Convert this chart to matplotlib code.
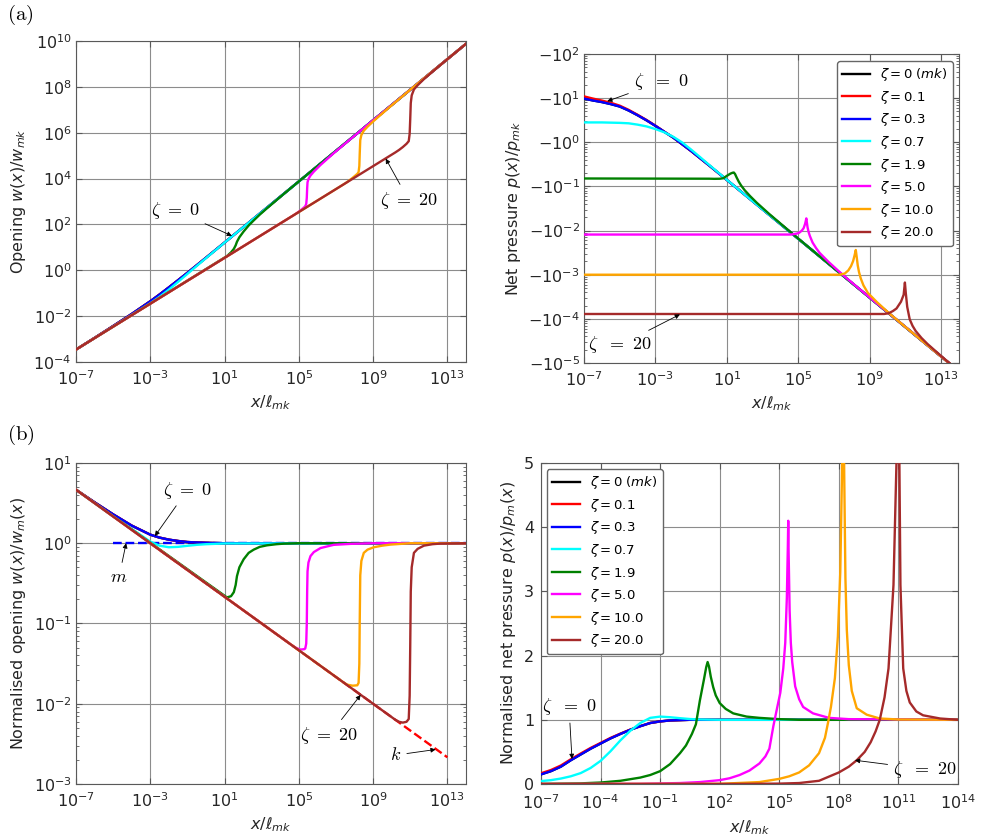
import matplotlib.pyplot as plt
import numpy as np
from matplotlib.ticker import FuncFormatter, NullFormatter

plt.rcParams.update({
    "font.family": "DejaVu Sans",
    "font.size": 11.5,
    "xtick.direction": "in",
    "ytick.direction": "in",
    "xtick.top": True,
    "ytick.right": True,
    "xtick.color": "0.35",
    "ytick.color": "0.35",
    "xtick.labelcolor": "0.15",
    "ytick.labelcolor": "0.15",
    "xtick.major.pad": 5,
    "ytick.major.pad": 3,
    "axes.edgecolor": "0.35",
    "axes.labelcolor": "0.15",
})

zeta_labels = [r"$\zeta = 0\;(mk)$", r"$\zeta = 0.1$", r"$\zeta = 0.3$", r"$\zeta = 0.7$",
               r"$\zeta = 1.9$", r"$\zeta = 5.0$", r"$\zeta = 10.0$", r"$\zeta = 20.0$"]
zeta_colors = ["black", "red", "blue", "cyan", "green", "magenta", "orange", "brown"]

# ---- opening curves (log10 x / l_mk), shared by (a) left and (b) left ----
x_open_z0 = [-7, -6, -5, -4, -3, -2.5, -2, -1.5, -1, 0, 1, 14]
x_open_z07 = [-7, -6, -5, -4, -3.5, -3, -2.5, -2, -1.5, -1, -0.5, 0, 1, 14]
x_open_z19 = [-7, 1.13, 1.35, 1.5, 1.6, 1.67, 1.8, 2.03, 2.3, 2.57, 2.9, 3.29, 3.8, 4.2, 5.0, 14]
x_open_z5 = [-7, 4.7, 4.9, 5.1, 5.3, 5.35, 5.40, 5.43, 5.45, 5.47, 5.52, 5.63, 5.81, 6.17, 6.88, 7.78, 9.0, 14]
x_open_z10 = [-7, 7.4, 7.6, 7.9, 8.15, 8.22, 8.26, 8.28, 8.31, 8.37, 8.5, 8.7, 9.04, 9.5, 9.94, 11, 14]
x_open_z20 = [-7, 10.2, 10.4, 10.6, 10.8, 10.92, 10.97, 11.0, 11.03, 11.08, 11.2, 11.4, 11.74, 12.2, 12.64, 14]

# (a) left: log10 w / w_mk
w_z0 = [-3.46, -2.95, -2.433, -1.907, -1.353, -1.057, -0.748, -0.432, -0.112, 0.545, 1.207, 9.873]
w_z07 = [-3.46, -2.96, -2.458, -1.947, -1.693, -1.44, -1.157, -0.843, -0.505, -0.159, 0.187, 0.528, 1.204, 9.873]
w_z19 = [-3.46, 0.618, 0.78, 0.93, 1.087, 1.243, 1.44, 1.693, 1.953, 2.173, 2.428, 2.707, 3.061, 3.335, 3.873, 9.873]
w_z5 = [-3.46, 2.39, 2.497, 2.615, 2.753, 2.797, 2.89, 3.16, 3.573, 3.837, 3.98, 4.133, 4.303, 4.593, 5.107, 5.719, 6.54, 9.873]
w_z10 = [-3.46, 3.74, 3.845, 4.032, 4.203, 4.28, 4.547, 5.06, 5.68, 5.9, 6.087, 6.26, 6.517, 6.843, 7.15, 7.873, 9.873]
w_z20 = [-3.46, 5.14, 5.248, 5.372, 5.515, 5.63, 5.953, 6.573, 7.293, 7.627, 7.887, 8.07, 8.337, 8.661, 8.963, 9.873]

# (b) left: log10 w / w_m(x)
nw_z0 = [0.667, 0.51, 0.36, 0.22, 0.107, 0.07, 0.045, 0.028, 0.015, 0.005, 0.0, 0.0]
nw_z07 = [0.667, 0.5, 0.335, 0.18, 0.1, 0.02, -0.03, -0.05, -0.045, -0.032, -0.02, -0.012, -0.003, 0.0]
nw_z19 = [0.667, -0.675, -0.66, -0.61, -0.52, -0.41, -0.3, -0.2, -0.12, -0.08, -0.045, -0.026, -0.012, -0.005, 0.0, 0.0]
nw_z5 = [0.667, -1.283, -1.31, -1.325, -1.32, -1.31, -1.25, -1.0, -0.6, -0.35, -0.24, -0.16, -0.11, -0.06, -0.02, -0.008, 0.0, 0.0]
nw_z10 = [0.667, -1.733, -1.762, -1.775, -1.77, -1.74, -1.5, -1.0, -0.4, -0.22, -0.12, -0.08, -0.05, -0.03, -0.017, 0.0, 0.0]
nw_z20 = [0.667, -2.2, -2.225, -2.235, -2.225, -2.19, -1.9, -1.3, -0.6, -0.3, -0.12, -0.07, -0.03, -0.012, -0.004, 0.0]

# asymptotes in (b) left
k_x, k_y = [-3, 13], [0.0, -2.667]
m_x, m_y = [-5, 14], [0.0, 0.0]

# ---- (a) right: log10 |p| / p_mk ----
x_p_z0 = [-7, -6.5, -6, -5.5, -5, -4.5, -4, -3.5, -3, -2.5, -2, -1, 0, 1, 14]
p_z0 = [0.99, 0.947, 0.911, 0.865, 0.81, 0.72, 0.613, 0.498, 0.372, 0.237, 0.106, -0.198, -0.522, -0.853, -5.187]
p_z01 = [1.04, 0.99, 0.945, 0.895, 0.83, 0.735, 0.623, 0.505, 0.376, 0.239, 0.107, -0.198, -0.522, -0.853, -5.187]
x_p_z07 = [-7, -6, -5, -4.5, -4, -3.5, -3, -2.5, -2, -1.5, -1, -0.5, 0, 1, 2, 14]
p_z07 = [0.45, 0.45, 0.44, 0.43, 0.4, 0.36, 0.3, 0.225, 0.125, -0.005, -0.166, -0.336, -0.509, -0.85, -1.187, -5.187]
x_p_z19 = [-7, 0, 0.3, 0.6, 0.8, 1.0, 1.2, 1.32, 1.39, 1.46, 1.55, 1.67, 1.8, 2.0, 2.3, 2.68, 3.35, 4, 5, 6, 14]
p_z19 = [-0.82, -0.825, -0.828, -0.826, -0.815, -0.76, -0.71, -0.69, -0.685, -0.72, -0.8, -0.895, -0.98,
         -1.087, -1.219, -1.372, -1.616, -1.84, -2.183, -2.52, -5.187]
x_p_z5 = [-7, 4.6, 4.9, 5.05, 5.2, 5.3, 5.38, 5.43, 5.45, 5.47, 5.52, 5.58, 5.65, 5.8, 6.0, 6.2, 6.7, 7.5, 8.5, 14]
p_z5 = [-2.09, -2.09, -2.07, -2.05, -2.0, -1.945, -1.85, -1.762, -1.724, -1.787, -1.929, -2.038, -2.124,
        -2.271, -2.399, -2.508, -2.712, -3.007, -3.349, -5.187]
x_p_z10 = [-7, 7.3, 7.6, 7.8, 7.95, 8.07, 8.15, 8.22, 8.27, 8.33, 8.4, 8.5, 8.65, 8.9, 9.4, 10.06, 11, 14]
p_z10 = [-3.0, -3.0, -2.974, -2.903, -2.808, -2.691, -2.565, -2.44, -2.596, -2.792, -2.94, -3.086, -3.242,
         -3.415, -3.62, -3.864, -4.185, -5.187]
x_p_z20 = [-7, 9.8, 10.06, 10.3, 10.5, 10.75, 10.9, 10.97, 11.02, 11.1, 11.24, 11.4, 11.57, 11.9, 12.24, 13.1, 14]
p_z20 = [-3.89, -3.89, -3.873, -3.823, -3.765, -3.612, -3.454, -3.177, -3.415, -3.729, -4.012, -4.159, -4.273,
         -4.434, -4.571, -4.878, -5.187]

# ---- (b) right: p / p_m(x), linear ----
x_np_z0 = [-7, -6.5, -6, -5.5, -5, -4.5, -4, -3.5, -3, -2.5, -2, -1.5, -1, -0.5, 0, 0.5, 14]
np_z0 = [0.15, 0.2, 0.27, 0.37, 0.46, 0.55, 0.63, 0.71, 0.78, 0.845, 0.9, 0.95, 0.975, 0.99, 0.995, 1.0, 1.0]
np_z01 = [0.167, 0.218, 0.288, 0.385, 0.475, 0.562, 0.64, 0.718, 0.785, 0.848, 0.902, 0.95, 0.975, 0.99, 0.995, 1.0, 1.0]
x_np_z07 = [-7, -6.5, -6, -5.5, -5, -4.5, -4, -3.5, -3, -2.5, -2, -1.5, -1, -0.5, 0, 0.5, 1, 2, 14]
np_z07 = [0.045, 0.06, 0.085, 0.12, 0.17, 0.25, 0.36, 0.51, 0.68, 0.83, 0.95, 1.03, 1.05, 1.04, 1.025, 1.012,
          1.005, 1.0, 1.0]
x_np_z19 = [-7, -5, -4, -3, -2, -1.5, -1, -0.5, 0, 0.3, 0.6, 0.8, 1.0, 1.2, 1.32, 1.39, 1.46, 1.55, 1.67, 1.8,
            2.0, 2.3, 2.68, 3.35, 4, 5, 6, 14]
np_z19 = [0.002, 0.01, 0.023, 0.05, 0.1, 0.14, 0.2, 0.31, 0.48, 0.6, 0.78, 0.93, 1.3, 1.62, 1.82, 1.9, 1.83,
          1.67, 1.51, 1.38, 1.26, 1.17, 1.1, 1.05, 1.03, 1.01, 1.0, 1.0]
x_np_z5 = [-7, -2, 0, 1, 2, 2.5, 3, 3.5, 4, 4.3, 4.5, 4.7, 4.9, 5.05, 5.2, 5.3, 5.38, 5.43, 5.45, 5.47, 5.52,
           5.58, 5.65, 5.8, 6.0, 6.2, 6.7, 7.5, 8.5, 14]
np_z5 = [0.0, 0.003, 0.015, 0.03, 0.06, 0.09, 0.14, 0.21, 0.32, 0.43, 0.55, 0.9, 1.2, 1.42, 1.8, 2.2, 2.9, 3.7,
         4.1, 3.6, 2.7, 2.2, 1.9, 1.52, 1.32, 1.2, 1.1, 1.03, 1.01, 1.0]
x_np_z10 = [-7, 2, 4, 5, 5.5, 6, 6.5, 7, 7.3, 7.45, 7.6, 7.8, 7.95, 8.07, 8.15, 8.22, 8.27, 8.33, 8.4, 8.5,
            8.65, 8.9, 9.4, 10.06, 11, 14]
np_z10 = [0.0, 0.003, 0.03, 0.08, 0.12, 0.18, 0.29, 0.48, 0.72, 0.95, 1.2, 1.65, 2.3, 3.3, 4.7, 6.6, 4.8, 3.2,
          2.4, 1.85, 1.45, 1.18, 1.08, 1.02, 1.005, 1.0]
x_np_z20 = [-7, 3, 5, 6, 7, 8, 8.5, 8.9, 9.3, 9.6, 9.85, 10.06, 10.3, 10.5, 10.75, 10.9, 10.97, 11.02, 11.1,
            11.24, 11.4, 11.57, 11.9, 12.24, 13.1, 14]
np_z20 = [0.0, 0.002, 0.006, 0.015, 0.05, 0.18, 0.27, 0.37, 0.5, 0.65, 0.82, 1.0, 1.35, 1.8, 3.1, 5.0, 10.0, 6.0,
          3.1, 1.8, 1.45, 1.27, 1.13, 1.07, 1.02, 1.0]

open_curves = [(x_open_z0, w_z0), (x_open_z0, w_z0), (x_open_z0, w_z0), (x_open_z07, w_z07),
               (x_open_z19, w_z19), (x_open_z5, w_z5), (x_open_z10, w_z10), (x_open_z20, w_z20)]
nopen_curves = [(x_open_z0, nw_z0), (x_open_z0, nw_z0), (x_open_z0, nw_z0), (x_open_z07, nw_z07),
                (x_open_z19, nw_z19), (x_open_z5, nw_z5), (x_open_z10, nw_z10), (x_open_z20, nw_z20)]
pres_curves = [(x_p_z0, p_z0), (x_p_z0, p_z01), (x_p_z0, p_z0), (x_p_z07, p_z07),
               (x_p_z19, p_z19), (x_p_z5, p_z5), (x_p_z10, p_z10), (x_p_z20, p_z20)]
npres_curves = [(x_np_z0, np_z0), (x_np_z0, np_z01), (x_np_z0, np_z0), (x_np_z07, np_z07),
                (x_np_z19, np_z19), (x_np_z5, np_z5), (x_np_z10, np_z10), (x_np_z20, np_z20)]

LW = 1.7
CM = dict(math_fontfamily="cm", fontsize=13, color="k")
ARROW = dict(arrowstyle="-|>", color="k", lw=0.6, mutation_scale=7, shrinkA=2, shrinkB=0)
LEGEND = dict(borderaxespad=0, fontsize=9.5, handlelength=2.1, labelspacing=0.42,
              framealpha=1, edgecolor="0.4")


def draw_curves(ax, curves, log_y=True):
    for (xs, ys), c, lab in zip(curves, zeta_colors, zeta_labels):
        xs = 10.0 ** np.asarray(xs)
        ys = 10.0 ** np.asarray(ys) if log_y else np.asarray(ys)
        ax.plot(xs, ys, color=c, lw=LW, label=lab, zorder=3)


def style_axes(ax, xticks_exp):
    ax.set_xscale("log")
    ax.set_xlim(1e-7, 1e14)
    ax.set_xticks(10.0 ** np.array(xticks_exp))
    ax.xaxis.set_minor_formatter(NullFormatter())
    ax.grid(True, which="major", color="0.55", lw=0.8, zorder=0)
    ax.tick_params(which="major", length=4, width=0.8)
    ax.tick_params(which="minor", length=2, width=0.6)
    ax.set_xlabel(r"$x/\ell_{mk}$")


fig = plt.figure(figsize=(9.84, 8.36), dpi=100)
ax1 = fig.add_axes([0.0772, 0.567, 0.3963, 0.384])
ax2 = fig.add_axes([0.5935, 0.5658, 0.3811, 0.3696])
ax3 = fig.add_axes([0.0772, 0.0622, 0.3963, 0.384])
ax4 = fig.add_axes([0.5498, 0.0622, 0.4238, 0.384])

# (a) left - opening
draw_curves(ax1, open_curves)
style_axes(ax1, [-7, -3, 1, 5, 9, 13])
ax1.set_yscale("log")
ax1.set_ylim(1e-4, 1e10)
ax1.set_yticks(10.0 ** np.arange(-4, 11, 2))
ax1.yaxis.set_minor_formatter(NullFormatter())
ax1.set_ylabel(r"Opening $w(x)/w_{mk}$")
ax1.annotate(r"$\zeta\ =\ 0$", xy=(10 ** 1.4, 10 ** 1.5), xytext=(10 ** -1.66, 10 ** 2.62),
             ha="center", va="center", arrowprops=ARROW, **CM)
ax1.annotate(r"$\zeta\ =\ 20$", xy=(10 ** 9.68, 10 ** 4.87), xytext=(10 ** 10.92, 10 ** 3.06),
             ha="center", va="center", arrowprops=ARROW, **CM)

# (a) right - net pressure (magnitude on log axis, labelled negative)
draw_curves(ax2, pres_curves)
style_axes(ax2, [-7, -3, 1, 5, 9, 13])
ax2.set_yscale("log")
ax2.set_ylim(1e-5, 1e2)
ax2.set_yticks(10.0 ** np.arange(-5, 3))
ax2.yaxis.set_major_formatter(FuncFormatter(lambda v, p: r"$-10^{%d}$" % round(np.log10(v))))
ax2.yaxis.set_minor_formatter(NullFormatter())
ax2.set_ylabel(r"Net pressure $p(x)/p_{mk}$")
ax2.legend(loc="upper right", bbox_to_anchor=(0.984, 0.977), **LEGEND)
ax2.annotate(r"$\zeta\ \ =\ 0$", xy=(10 ** -5.7, 10 ** 0.93), xytext=(10 ** -2.69, 10 ** 1.37),
             ha="center", va="center", arrowprops=ARROW, **CM)
ax2.annotate(r"$\zeta\ \ =\ 20$", xy=(10 ** -1.63, 10 ** -3.9), xytext=(10 ** -4.98, 10 ** -4.59),
             ha="center", va="center", arrowprops=ARROW, **CM)

# (b) left - normalised opening
ax3.plot(10.0 ** np.asarray(m_x), 10.0 ** np.asarray(m_y), "--", color="blue", lw=LW, zorder=2)
ax3.plot(10.0 ** np.asarray(k_x), 10.0 ** np.asarray(k_y), "--", color="red", lw=LW, zorder=2)
draw_curves(ax3, nopen_curves)
style_axes(ax3, [-7, -3, 1, 5, 9, 13])
ax3.set_yscale("log")
ax3.set_ylim(1e-3, 1e1)
ax3.set_yticks(10.0 ** np.arange(-3, 2))
ax3.yaxis.set_minor_formatter(NullFormatter())
ax3.set_ylabel(r"Normalised opening $w(x)/w_m(x)$")
ax3.annotate(r"$\zeta\ =\ 0$", xy=(10 ** -2.75, 10 ** 0.09), xytext=(10 ** -1.01, 10 ** 0.66),
             ha="center", va="center", arrowprops=ARROW, **CM)
ax3.annotate(r"$m$", xy=(10 ** -4.3, 10 ** 0.0), xytext=(10 ** -4.68, 10 ** -0.42),
             ha="center", va="center", arrowprops=ARROW, **CM)
ax3.annotate(r"$\zeta\ =\ 20$", xy=(10 ** 8.33, 10 ** -1.89), xytext=(10 ** 6.65, 10 ** -2.39),
             ha="center", va="center", arrowprops=ARROW, **CM)
ax3.annotate(r"$k$", xy=(10 ** 12.37, 10 ** -2.57), xytext=(10 ** 10.22, 10 ** -2.64),
             ha="center", va="center", arrowprops=ARROW, **CM)

# (b) right - normalised net pressure
draw_curves(ax4, npres_curves, log_y=False)
style_axes(ax4, [-7, -4, -1, 2, 5, 8, 11, 14])
ax4.tick_params(axis="x", which="major", pad=7)
ax4.tick_params(axis="y", which="major", pad=5)
ax4.set_ylim(0, 5)
ax4.set_yticks(range(6))
ax4.set_ylabel(r"Normalised net pressure $p(x)/p_m(x)$")
ax4.legend(loc="upper left", bbox_to_anchor=(0.014, 0.981), **LEGEND)
ax4.annotate(r"$\zeta\ \ =\ 0$", xy=(10 ** -5.44, 0.39), xytext=(10 ** -5.59, 1.2),
             ha="center", va="center", arrowprops=ARROW, **CM)
ax4.annotate(r"$\zeta\ \ =\ 20$", xy=(10 ** 8.81, 0.37), xytext=(10 ** 12.33, 0.23),
             ha="center", va="center", arrowprops=ARROW, **CM)

fig.text(0.007, 0.982, r"$\mathrm{(a)}$", math_fontfamily="cm", fontsize=15, va="center", ha="left")
fig.text(0.007, 0.48, r"$\mathrm{(b)}$", math_fontfamily="cm", fontsize=15, va="center", ha="left")

fig.savefig("out.png", dpi=100)
